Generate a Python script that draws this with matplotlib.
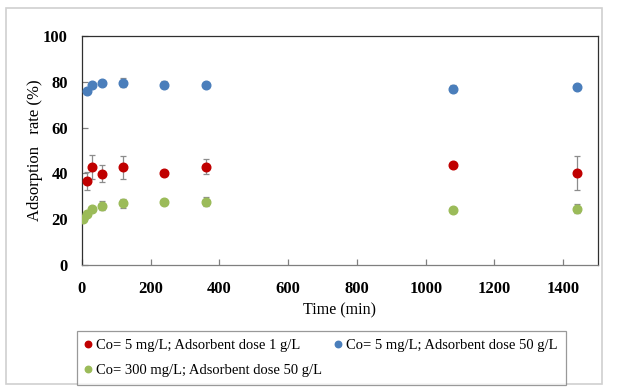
import matplotlib.pyplot as plt
from matplotlib.patches import Rectangle

# data
t_main = [15, 30, 60, 120, 240, 360, 1080, 1440]
t_green = [5, 15, 30, 60, 120, 240, 360, 1080, 1440]

red_y = [36.6, 42.8, 39.9, 42.8, 40.0, 42.9, 43.8, 40.2]
red_err = [3.9, 5.3, 3.7, 5.0, 0.8, 3.3, 0.8, 7.3]

blue_y = [75.9, 78.7, 79.5, 79.5, 78.7, 78.7, 76.9, 77.5]
blue_err = [0.8, 0.8, 0.8, 2.0, 1.5, 0.8, 1.5, 0.8]

green_y = [20.3, 22.3, 24.6, 26.0, 27.0, 27.7, 27.7, 24.1, 24.7]
green_err = [0.5, 0.5, 0.5, 2.0, 2.0, 0.6, 2.0, 1.0, 2.0]

labels = ['Co= 5 mg/L; Adsorbent dose 1 g/L',
          'Co= 5 mg/L; Adsorbent dose 50 g/L',
          'Co= 300 mg/L; Adsorbent dose 50 g/L']
colors = ['#C00000', '#4A7EBB', '#9BBB59']

plt.rcParams['font.family'] = ['Liberation Serif', 'DejaVu Serif']

W, H = 621, 392
fig = plt.figure(figsize=(W / 100, H / 100), dpi=100)
ax = fig.add_axes([81.7 / W, 1 - 265.3 / H, (597.7 - 81.7) / W, (265.3 - 35.7) / H])

# light frame round the whole chart area
fig.patches.append(Rectangle((6 / W, 1 - 384 / H), 596 / W, 376 / H,
                             transform=fig.transFigure, fill=False,
                             edgecolor='#d0d0d0', lw=1.2))

series = [(t_main, red_y, red_err), (t_main, blue_y, blue_err), (t_green, green_y, green_err)]
handles = []
for (x, y, e), c, lab in zip(series, colors, labels):
    ax.errorbar(x, y, yerr=e, fmt='none', ecolor='#8c8c8c', elinewidth=0.9,
                capsize=2.5, capthick=0.9, zorder=2)
    h, = ax.plot(x, y, 'o', color=c, ms=6.2, mec=c, label=lab, zorder=3)
    handles.append(h)

ax.set_xlim(0, 1500)
ax.set_ylim(0, 100)
ax.set_xticks(range(0, 1401, 200))
ax.set_yticks(range(0, 101, 20))
for lbl in ax.get_xticklabels() + ax.get_yticklabels():
    lbl.set_fontweight('bold')
    lbl.set_fontsize(12)
ax.tick_params(axis='both', direction='in', length=4, color='#808080', width=0.9)
ax.tick_params(axis='x', pad=11.5)
ax.tick_params(axis='y', pad=10)

for side in ['top', 'right', 'left']:
    ax.spines[side].set_color('#303030')
    ax.spines[side].set_linewidth(0.9)
ax.spines['bottom'].set_color('#7f7f7f')
ax.spines['bottom'].set_linewidth(0.9)

ax.set_xlabel('Time (min)', fontsize=11.5, labelpad=4)
ax.set_ylabel('Adsorption   rate (%)', fontsize=12, labelpad=0)

# legend fills column-wise, so order red, green | blue to get red/blue on row 1
order = [0, 2, 1]
leg = fig.legend(handles=[handles[i] for i in order], labels=[labels[i] for i in order],
                 ncol=2, loc='upper left',
                 bbox_to_anchor=(76.7 / W, 1 - 384 / H, 489 / W, 53.3 / H),
                 mode='expand', fontsize=10.5, frameon=True, fancybox=False,
                 handlelength=0.5, handletextpad=0.3, markerscale=0.75,
                 borderaxespad=0, borderpad=0.55, labelspacing=0.8, columnspacing=1.0)
leg.get_frame().set_edgecolor('#808080')
leg.get_frame().set_linewidth(0.9)

fig.savefig('out.png', dpi=100)
